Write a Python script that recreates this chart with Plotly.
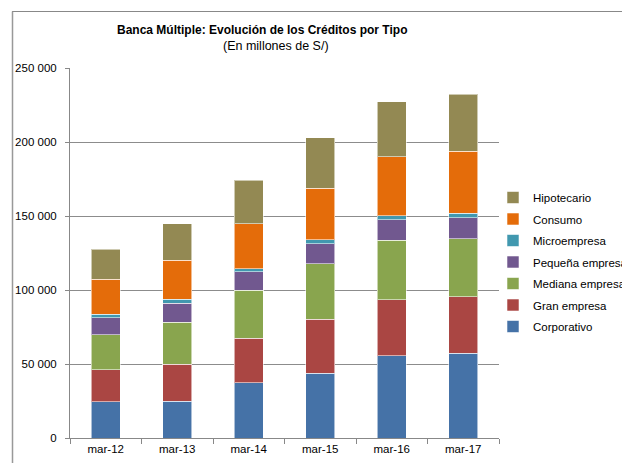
import plotly.graph_objects as go

categories = ["mar-12", "mar-13", "mar-14", "mar-15", "mar-16", "mar-17"]
series_names = ["Corporativo", "Gran empresa", "Mediana empresa", "Pequeña empresa",
                "Microempresa", "Consumo", "Hipotecario"]
corporativo = [24500, 24800, 37400, 43700, 55600, 57200]
gran_empresa = [21450, 25000, 30000, 36700, 37800, 38300]
mediana_empresa = [23650, 28400, 32600, 37200, 40200, 39200]
pequena_empresa = [11700, 12800, 12400, 13500, 13900, 14200]
microempresa = [2300, 2700, 2000, 2900, 2700, 2900]
consumo = [23600, 26400, 30200, 34700, 39700, 41900]
hipotecario = [20300, 24500, 29700, 34200, 37300, 38700]
series_values = [corporativo, gran_empresa, mediana_empresa, pequena_empresa,
                 microempresa, consumo, hipotecario]
colors = ["#4572A7", "#AA4643", "#89A54E", "#71588F", "#4198AF", "#E46C0A", "#938953"]
y_tickvals = [0, 50000, 100000, 150000, 200000, 250000]
y_ticktext = ["0", "50 000", "100 000", "150 000", "200 000", "250 000"]

W, H = 622, 463
L, R, T, B = 70, 499, 68, 438

fig = go.Figure()
n = len(series_names)
for i, (name, vals, col) in enumerate(zip(series_names, series_values, colors)):
    fig.add_trace(go.Bar(
        x=categories, y=vals, name=name, legendgroup=name,
        legendrank=1000 - i,
        marker=dict(color=col, line=dict(color="rgba(255,255,255,0.55)", width=1)),
        width=0.4,
    ))

def px_x(p):
    return (p - L) / (R - L)

def px_y(p):
    return (B - p) / (B - T)

fig.update_layout(
    width=W, height=H,
    margin=dict(l=L, r=W - R, t=T, b=H - B, pad=0, autoexpand=False),
    barmode="stack",
    plot_bgcolor="white", paper_bgcolor="white",
    font=dict(family="Liberation Sans, Arial, sans-serif", size=11, color="black"),
    showlegend=True,
    legend=dict(
        traceorder="grouped",
        x=px_x(493), y=px_y(183), xanchor="left", yanchor="top",
        font=dict(size=11.5, color="black"),
        itemwidth=30, tracegroupgap=2.5,
        bgcolor="rgba(0,0,0,0)",
    ),
    xaxis=dict(
        showline=True, linecolor="#888888", linewidth=1,
        ticks="outside", tickson="boundaries", ticklen=5, tickcolor="#888888",
        tickfont=dict(size=11.5), showgrid=False, fixedrange=True,
    ),
    yaxis=dict(
        range=[0, 250000], tickvals=y_tickvals, ticktext=y_ticktext,
        showline=True, linecolor="#888888", linewidth=1,
        ticks="outside", ticklen=4, tickcolor="#888888",
        showgrid=True, gridcolor="#8c8c8c", gridwidth=1,
        zeroline=False, tickfont=dict(size=11.5), ticklabelstandoff=6,
    ),
    annotations=[
        dict(text="<b>Banca Múltiple: Evolución de los Créditos por Tipo</b>",
             xref="paper", yref="paper", x=px_x(262), y=px_y(30),
             xanchor="center", yanchor="middle", showarrow=False,
             font=dict(size=12, color="black")),
        dict(text="(En millones de S/)",
             xref="paper", yref="paper", x=px_x(276), y=px_y(46),
             xanchor="center", yanchor="middle", showarrow=False,
             font=dict(size=12.5, color="black")),
    ],
    shapes=[
        dict(type="line", xref="paper", yref="paper",
             x0=px_x(12), x1=px_x(640), y0=px_y(11.5), y1=px_y(11.5),
             line=dict(color="#888888", width=1.2)),
        dict(type="line", xref="paper", yref="paper",
             x0=px_x(12.5), x1=px_x(12.5), y0=px_y(11.5), y1=px_y(480),
             line=dict(color="#999999", width=1.5)),
    ],
)

fig.write_html("out.html")
